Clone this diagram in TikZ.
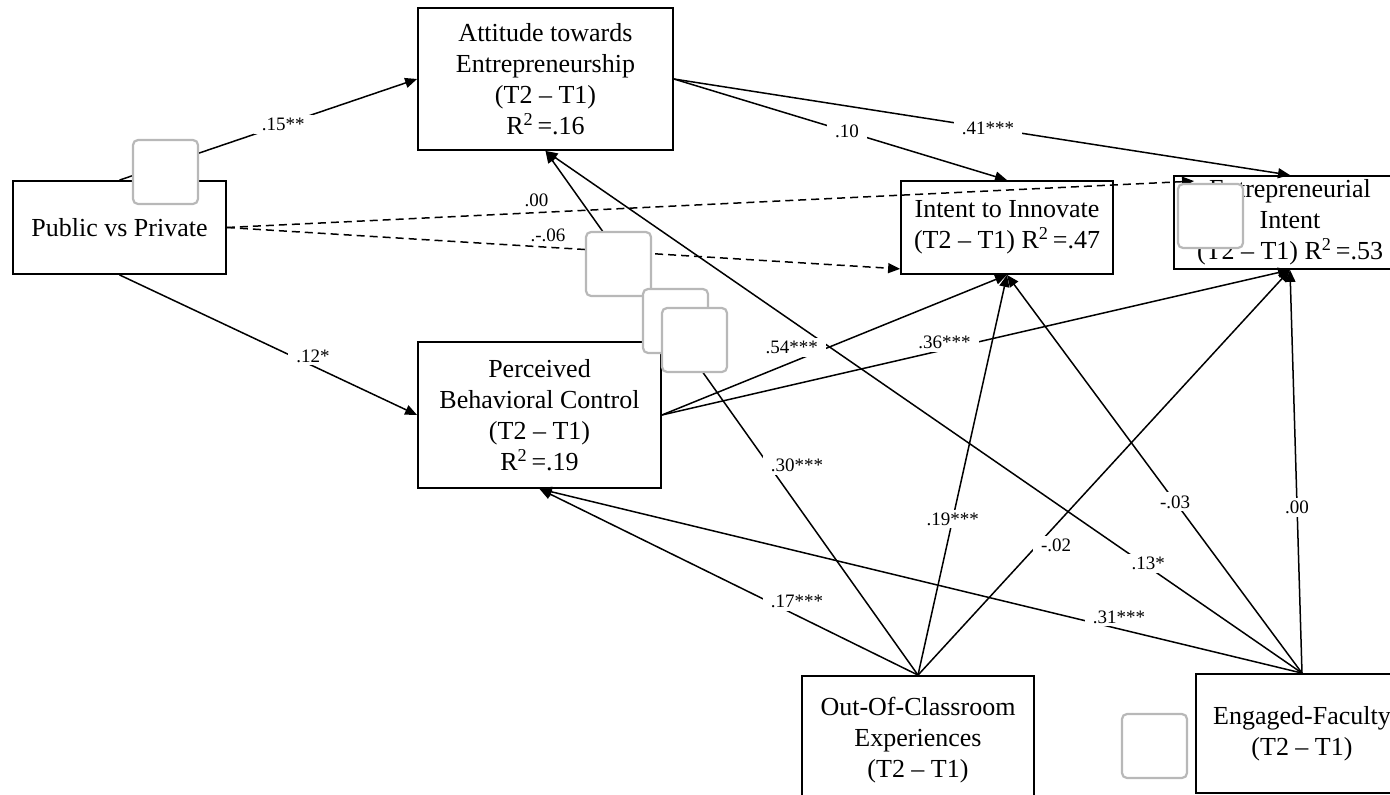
\documentclass[tikz,border=0pt]{standalone}
\usepackage{fontspec}
\setmainfont{Liberation Serif}
\usetikzlibrary{arrows.meta}
\pgfdeclarelayer{lines}
\pgfdeclarelayer{top}
\pgfsetlayers{lines,main,top}
\tikzset{box/.style={rectangle,draw,line width=1.8pt,inner sep=0pt,align=center,font=\fontsize{26}{31}\selectfont},line/.style={-{Triangle[length=12pt,width=10pt]},line width=1.5pt},dashline/.style={line,dash pattern=on 8pt off 5pt},coef/.style={fill=white,inner xsep=8pt,inner ysep=3pt,font=\fontsize{19}{20}\selectfont},blank/.style={draw=black!28,fill=white,line width=2.2pt,rounded corners=5pt}}

\begin{document}
\begin{tikzpicture}[x=1pt,y=-1pt]
\useasboundingbox (0,0) rectangle (1390,795);
\node[box,minimum width=213pt,minimum height=93pt] (pp) at (119.5,227.5) {Public vs Private};
\node[box,minimum width=255pt,minimum height=142pt] (att) at (545.5,79) {Attitude towards\\Entrepreneurship\\(T2 -- T1)\\R\textsuperscript{2}\,=.16};
\node[box,minimum width=243pt,minimum height=146pt] (pbc) at (539.5,415) {Perceived\\Behavioral Control\\(T2 -- T1)\\R\textsuperscript{2}\,=.19};
\node[box,minimum width=212pt,minimum height=93pt] (ii) at (1007,227.5) {Intent to Innovate\\(T2 -- T1) R\textsuperscript{2}\,=.47};
\node[box,minimum width=232pt,minimum height=93pt] (ei) at (1290,222.5) {Entrepreneurial\\Intent\\(T2 -- T1) R\textsuperscript{2}\,=.53};
\node[box,minimum width=232pt,minimum height=128pt] (oce) at (918,740) {Out-Of-Classroom\\Experiences\\(T2 -- T1)};
\node[box,minimum width=212pt,minimum height=119pt] (ef) at (1302,733.5) {Engaged-Faculty\\(T2 -- T1)};

\foreach \src/\dst/\p/\dx/\dy/\txt in {
  pp.north/att.west/.55/0/0/{.15**},
  pp.south/pbc.west/.65/0/10/{.12*},
  att.east/ii.north/.52/0/0/{.10},
  att.east/ei.north/.51/0/0/{.41***},
  pbc.east/ii.south/.376/0/15/{.54***},
  pbc.east/ei.south/.45/0/7/{.36***},
  oce.north/att.south/.40/28/0/{.30***},
  oce.north/pbc.south/.32/0/14/{.17***},
  oce.north/ii.south/.39/0/0/{.19***},
  oce.north/ei.south/.32/19/0/{-.02},
  ef.north/att.south/.21/5/0/{.13*},
  ef.north/pbc.south/.24/0/12/{.31***},
  ef.north/ii.south/.43/0/0/{-.03},
  ef.north/ei.south/.41/0/0/{.00}}
{
  \begin{pgfonlayer}{lines}
    \draw[line] (\src) -- (\dst);
  \end{pgfonlayer}
  \path (\src) -- node[coef,pos=\p,xshift=\dx pt,yshift=\dy pt] {\txt} (\dst);
}

\begin{pgfonlayer}{lines}
  \draw[dashline] (pp.east) -- ([xshift=21pt,yshift=-6pt]ei.north west);
  \draw[dashline] (pp.east) -- ([yshift=6pt]ii.south west);
\end{pgfonlayer}
\path (pp.east) -- node[coef,inner ysep=1pt,pos=.32,yshift=12pt] {.00} ([xshift=21pt,yshift=-6pt]ei.north west);
\path (pp.east) -- node[coef,inner ysep=1pt,pos=.477,yshift=12pt] {.-.06} ([yshift=6pt]ii.south west);

\begin{pgfonlayer}{top}
  \foreach \x/\y in {133/140,586/232,643/289,662/308,1122/714,1178/184}
    \draw[blank] (\x,\y) rectangle ++(65,64);
\end{pgfonlayer}
\end{tikzpicture}
\end{document}
